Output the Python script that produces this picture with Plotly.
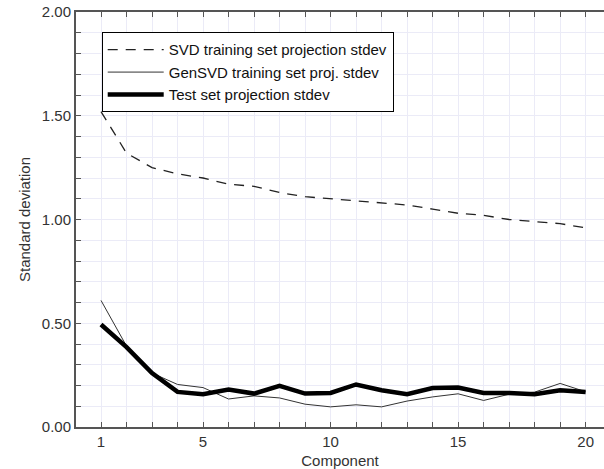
import plotly.graph_objects as go

components = list(range(1, 21))
svd_train = [1.52, 1.32, 1.25, 1.22, 1.20, 1.17, 1.16, 1.13, 1.11, 1.10,
             1.09, 1.08, 1.07, 1.05, 1.03, 1.02, 1.00, 0.99, 0.98, 0.96]
gensvd_train = [0.61, 0.39, 0.26, 0.205, 0.19, 0.135, 0.15, 0.14, 0.11, 0.097,
                0.107, 0.097, 0.125, 0.145, 0.16, 0.128, 0.158, 0.168, 0.21, 0.17]
test_set = [0.494, 0.385, 0.26, 0.169, 0.158, 0.18, 0.161, 0.198, 0.161, 0.164,
            0.205, 0.177, 0.158, 0.188, 0.19, 0.164, 0.164, 0.158, 0.177, 0.169]
names = ["SVD training set projection stdev", "GenSVD training set proj. stdev",
         "Test set projection stdev"]
x_ticks = [1, 5, 10, 15, 20]
y_ticks = [0.0, 0.5, 1.0, 1.5, 2.0]

FONT = "Liberation Sans, Arial, sans-serif"
AX = "#555555"
GRID = "#ebebf7"

fig = go.Figure()
fig.add_trace(go.Scatter(x=components, y=svd_train, mode="lines", name=names[0],
                         line=dict(color="#222222", width=1.3, dash="10px,8px")))
fig.add_trace(go.Scatter(x=components, y=gensvd_train, mode="lines", name=names[1],
                         line=dict(color="#333333", width=1)))
fig.add_trace(go.Scatter(x=components, y=test_set, mode="lines", name=names[2],
                         line=dict(color="#000000", width=4.5)))

fig.update_layout(
    width=604, height=469,
    margin=dict(l=76, r=0, t=12, b=42),
    paper_bgcolor="white", plot_bgcolor="white",
    font=dict(family=FONT, size=15, color="#333333"),
    legend=dict(x=0.0487, y=0.951, xanchor="left", yanchor="top",
                bgcolor="white", bordercolor="black", borderwidth=1,
                font=dict(size=15, color="#111111"), itemwidth=56),
    xaxis=dict(range=[0.02, 20.72], tickvals=x_ticks, ticktext=[str(v) for v in x_ticks],
               ticks="inside", ticklen=5, tickcolor=AX, showline=True, linecolor=AX,
               linewidth=2, mirror="ticks", showgrid=True, gridcolor=GRID, zeroline=False,
               minor=dict(dtick=1, ticks="inside", ticklen=5, tickcolor=AX,
                          showgrid=True, gridcolor=GRID),
               title=dict(text="Component", font=dict(size=15, color="#333333"), standoff=6)),
    yaxis=dict(range=[0, 2], tickvals=y_ticks, tickformat=".2f",
               ticks="inside", ticklen=5, tickcolor=AX, showline=True, linecolor=AX,
               linewidth=2, showgrid=True, gridcolor=GRID, zeroline=False,
               ticklabeloverflow="allow",
               minor=dict(dtick=0.1, ticks="inside", ticklen=5, tickcolor=AX,
                          showgrid=True, gridcolor=GRID),
               title=dict(text="Standard deviation", font=dict(size=15, color="#333333"),
                          standoff=8)),
)

fig.write_html("out.html", config={"displayModeBar": False},
               post_script="document.body.style.margin='0';")
